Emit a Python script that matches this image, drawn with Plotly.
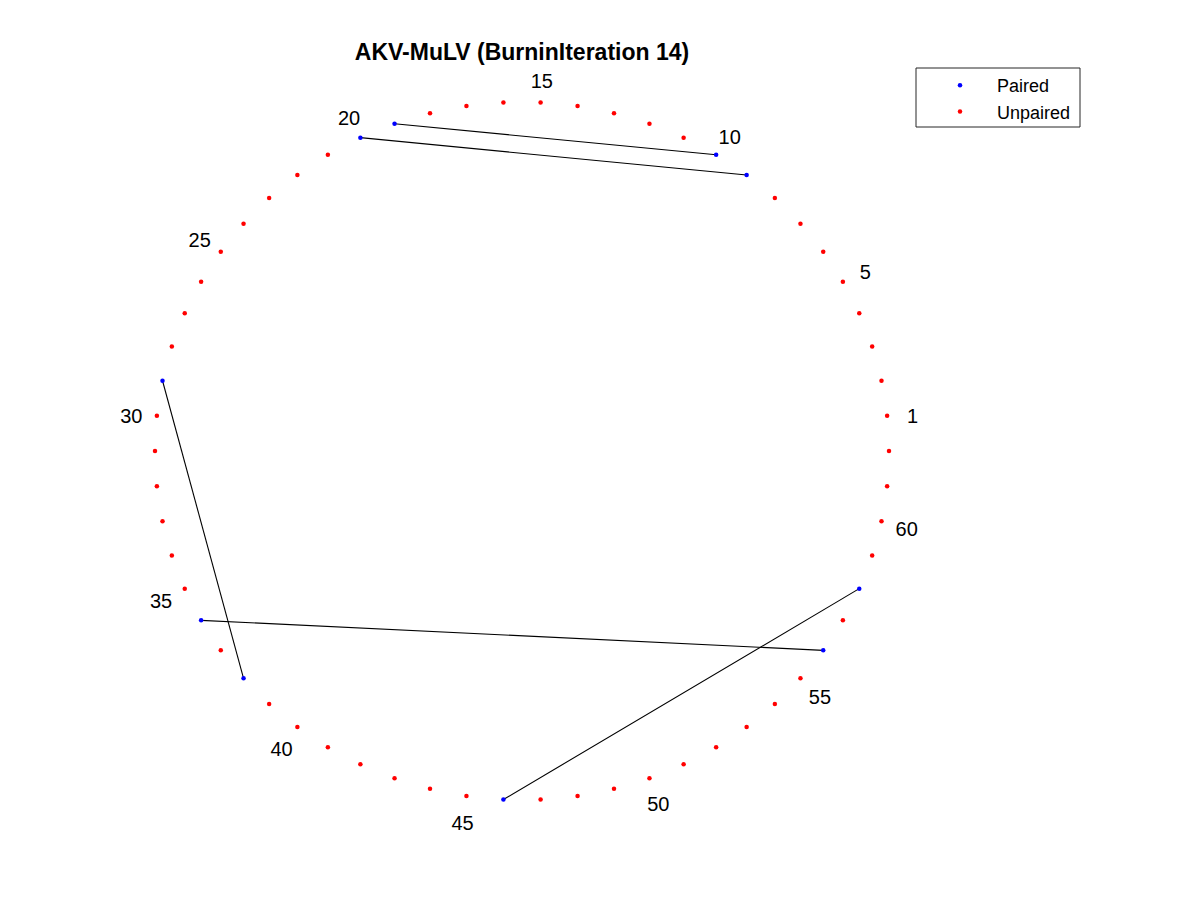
import numpy as np
import plotly.graph_objects as go

# Data
title = 'AKV-MuLV (BurninIteration 14)'
n_bases = 62
pair_i = [9, 10, 29, 36, 46]
pair_j = [20, 19, 38, 56, 58]
tick_bases = [1, 5, 10, 15, 20, 25, 30, 35, 40, 45, 50, 55, 60]

W, H = 1200, 900
OFF = 8          # page margin of the html body
CX, CY = 522 - OFF, 451 - OFF   # circle centre in figure pixels
RX, RY = 367, 349

# positions on the circle (base n_bases sits at angle 0, counter-clockwise)
bases = np.arange(1, n_bases + 1)
theta = 2 * np.pi * bases / n_bases
xs = np.cos(theta)
ys = np.sin(theta)

paired = set(pair_i) | set(pair_j)
is_paired = np.array([b in paired for b in bases])

fig = go.Figure()

# Pair lines
lx, ly = [], []
for a, b in zip(pair_i, pair_j):
    lx += [xs[a - 1], xs[b - 1], None]
    ly += [ys[a - 1], ys[b - 1], None]
fig.add_trace(go.Scatter(x=lx, y=ly, mode='lines', line=dict(color='black', width=1.1),
                         showlegend=False, hoverinfo='skip'))

fig.add_trace(go.Scatter(x=xs[is_paired], y=ys[is_paired], mode='markers', name='Paired',
                         marker=dict(color='#0000ff', size=4.5)))
fig.add_trace(go.Scatter(x=xs[~is_paired], y=ys[~is_paired], mode='markers', name='Unpaired',
                         marker=dict(color='#ff0000', size=4.5)))

# Index labels
tb = np.array(tick_bases)
r_lab = 1.07
fig.add_trace(go.Scatter(x=r_lab * np.cos(2 * np.pi * tb / n_bases),
                         y=r_lab * np.sin(2 * np.pi * tb / n_bases) - 4.5 / RY,
                         mode='text', text=[str(t) for t in tick_bases],
                         textposition='middle center',
                         textfont=dict(size=20, color='black', family='Liberation Sans, Arial'),
                         showlegend=False, hoverinfo='skip', cliponaxis=False))

# legend frame
fig.add_shape(type='rect', xref='paper', yref='paper',
              x0=(916 - OFF) / W, x1=(1080 - OFF) / W,
              y0=1 - (127 - OFF) / H, y1=1 - (68 - OFF) / H,
              line=dict(color='#262626', width=1), fillcolor='white', layer='below')

fig.update_layout(
    width=W, height=H,
    margin=dict(l=0, r=0, t=0, b=0),
    paper_bgcolor='white', plot_bgcolor='white',
    font=dict(family='Liberation Sans, Arial', color='black'),
    title=dict(text='<b>' + title + '</b>', x=CX / W, xanchor='center',
               y=1 - (52 - OFF) / H, yanchor='middle', yref='container',
               font=dict(size=23, color='black')),
    xaxis=dict(range=[-CX / RX, (W - CX) / RX], visible=False, fixedrange=True),
    yaxis=dict(range=[(CY - H) / RY, CY / RY], visible=False, fixedrange=True),
    legend=dict(x=(923 - OFF) / W, y=1 - (67 - OFF) / H, xanchor='left', yanchor='top',
                bgcolor='rgba(0,0,0,0)', borderwidth=0, itemwidth=64,
                font=dict(size=18, color='black')),
    showlegend=True,
)

fig.write_html("out.html")
